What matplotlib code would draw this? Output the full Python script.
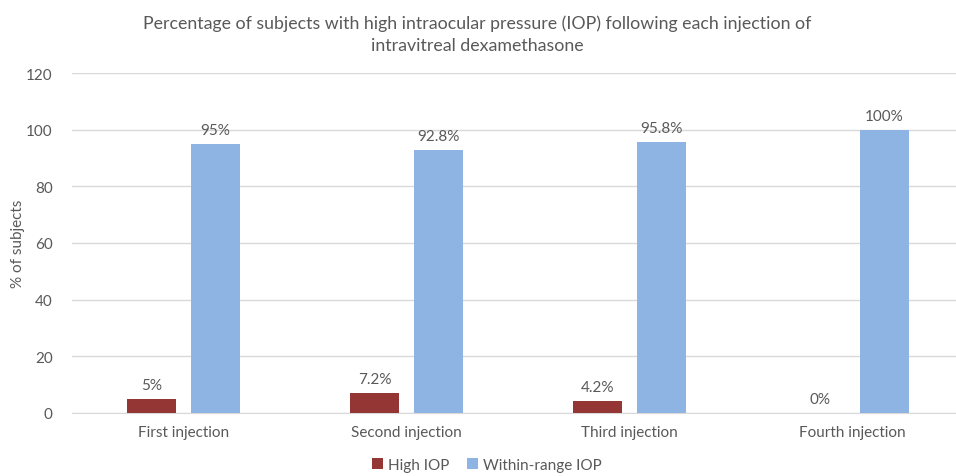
import matplotlib
matplotlib.use('Agg')
import matplotlib.pyplot as plt
import numpy as np

categories = ['First injection', 'Second injection', 'Third injection', 'Fourth injection']
high_iop = [5, 7.2, 4.2, 0]
within_iop = [95, 92.8, 95.8, 100]
high_labels = ['5%', '7.2%', '4.2%', '0%']
within_labels = ['95%', '92.8%', '95.8%', '100%']
series_names = ['High IOP', 'Within-range IOP']
yticks = [0, 20, 40, 60, 80, 100, 120]

RED = '#943634'
BLUE = '#8EB4E3'
TXT = '#595959'
GRID = '#D9D9D9'

plt.rcParams['font.family'] = ['Lato', 'DejaVu Sans']

fig = plt.figure(figsize=(9.56, 4.77), dpi=100)
ax = fig.add_axes([72 / 956, 63 / 477, 892 / 956, 340 / 477])

x = np.arange(len(categories))
w = 0.224
off = 0.1435
b1 = ax.bar(x - off, high_iop, w, color=RED, label=series_names[0], zorder=3)
b2 = ax.bar(x + off, within_iop, w, color=BLUE, label=series_names[1], zorder=3)

for bars, labs in ((b1, high_labels), (b2, within_labels)):
    for r, lab in zip(bars, labs):
        ax.annotate(lab, (r.get_x() + r.get_width() / 2, r.get_height()),
                    xytext=(0, 5), textcoords='offset points',
                    ha='center', va='bottom', fontsize=11, color=TXT)

ax.set_xlim(-0.5, len(categories) - 0.5)
ax.set_ylim(0, 120)
ax.set_yticks(yticks)
ax.set_xticks(x)
ax.set_xticklabels(categories)
ax.tick_params(axis='both', length=0, labelsize=11, labelcolor=TXT)
ax.tick_params(axis='x', pad=9)
ax.tick_params(axis='y', pad=14)
ax.grid(axis='y', color=GRID, linewidth=1, zorder=0)
for s in ['top', 'right', 'left']:
    ax.spines[s].set_visible(False)
ax.spines['bottom'].set_color(GRID)

fig.text(18 / 956, 1 - 244 / 477, '% of subjects', rotation=90, ha='center', va='center',
         fontsize=11, color=TXT)
fig.text(477 / 956, 1 - 35 / 477,
         'Percentage of subjects with high intraocular pressure (IOP) following each injection of\nintravitreal dexamethasone',
         ha='center', va='center', fontsize=12.8, color=TXT, linespacing=1.45)

fig.legend(loc='center', bbox_to_anchor=(487 / 956, 1 - 466 / 477), ncol=2, frameon=False,
           fontsize=11, labelcolor=TXT, handlelength=0.7, handleheight=0.7,
           handletextpad=0.3, columnspacing=1.2)

fig.savefig('out.png', dpi=100)
